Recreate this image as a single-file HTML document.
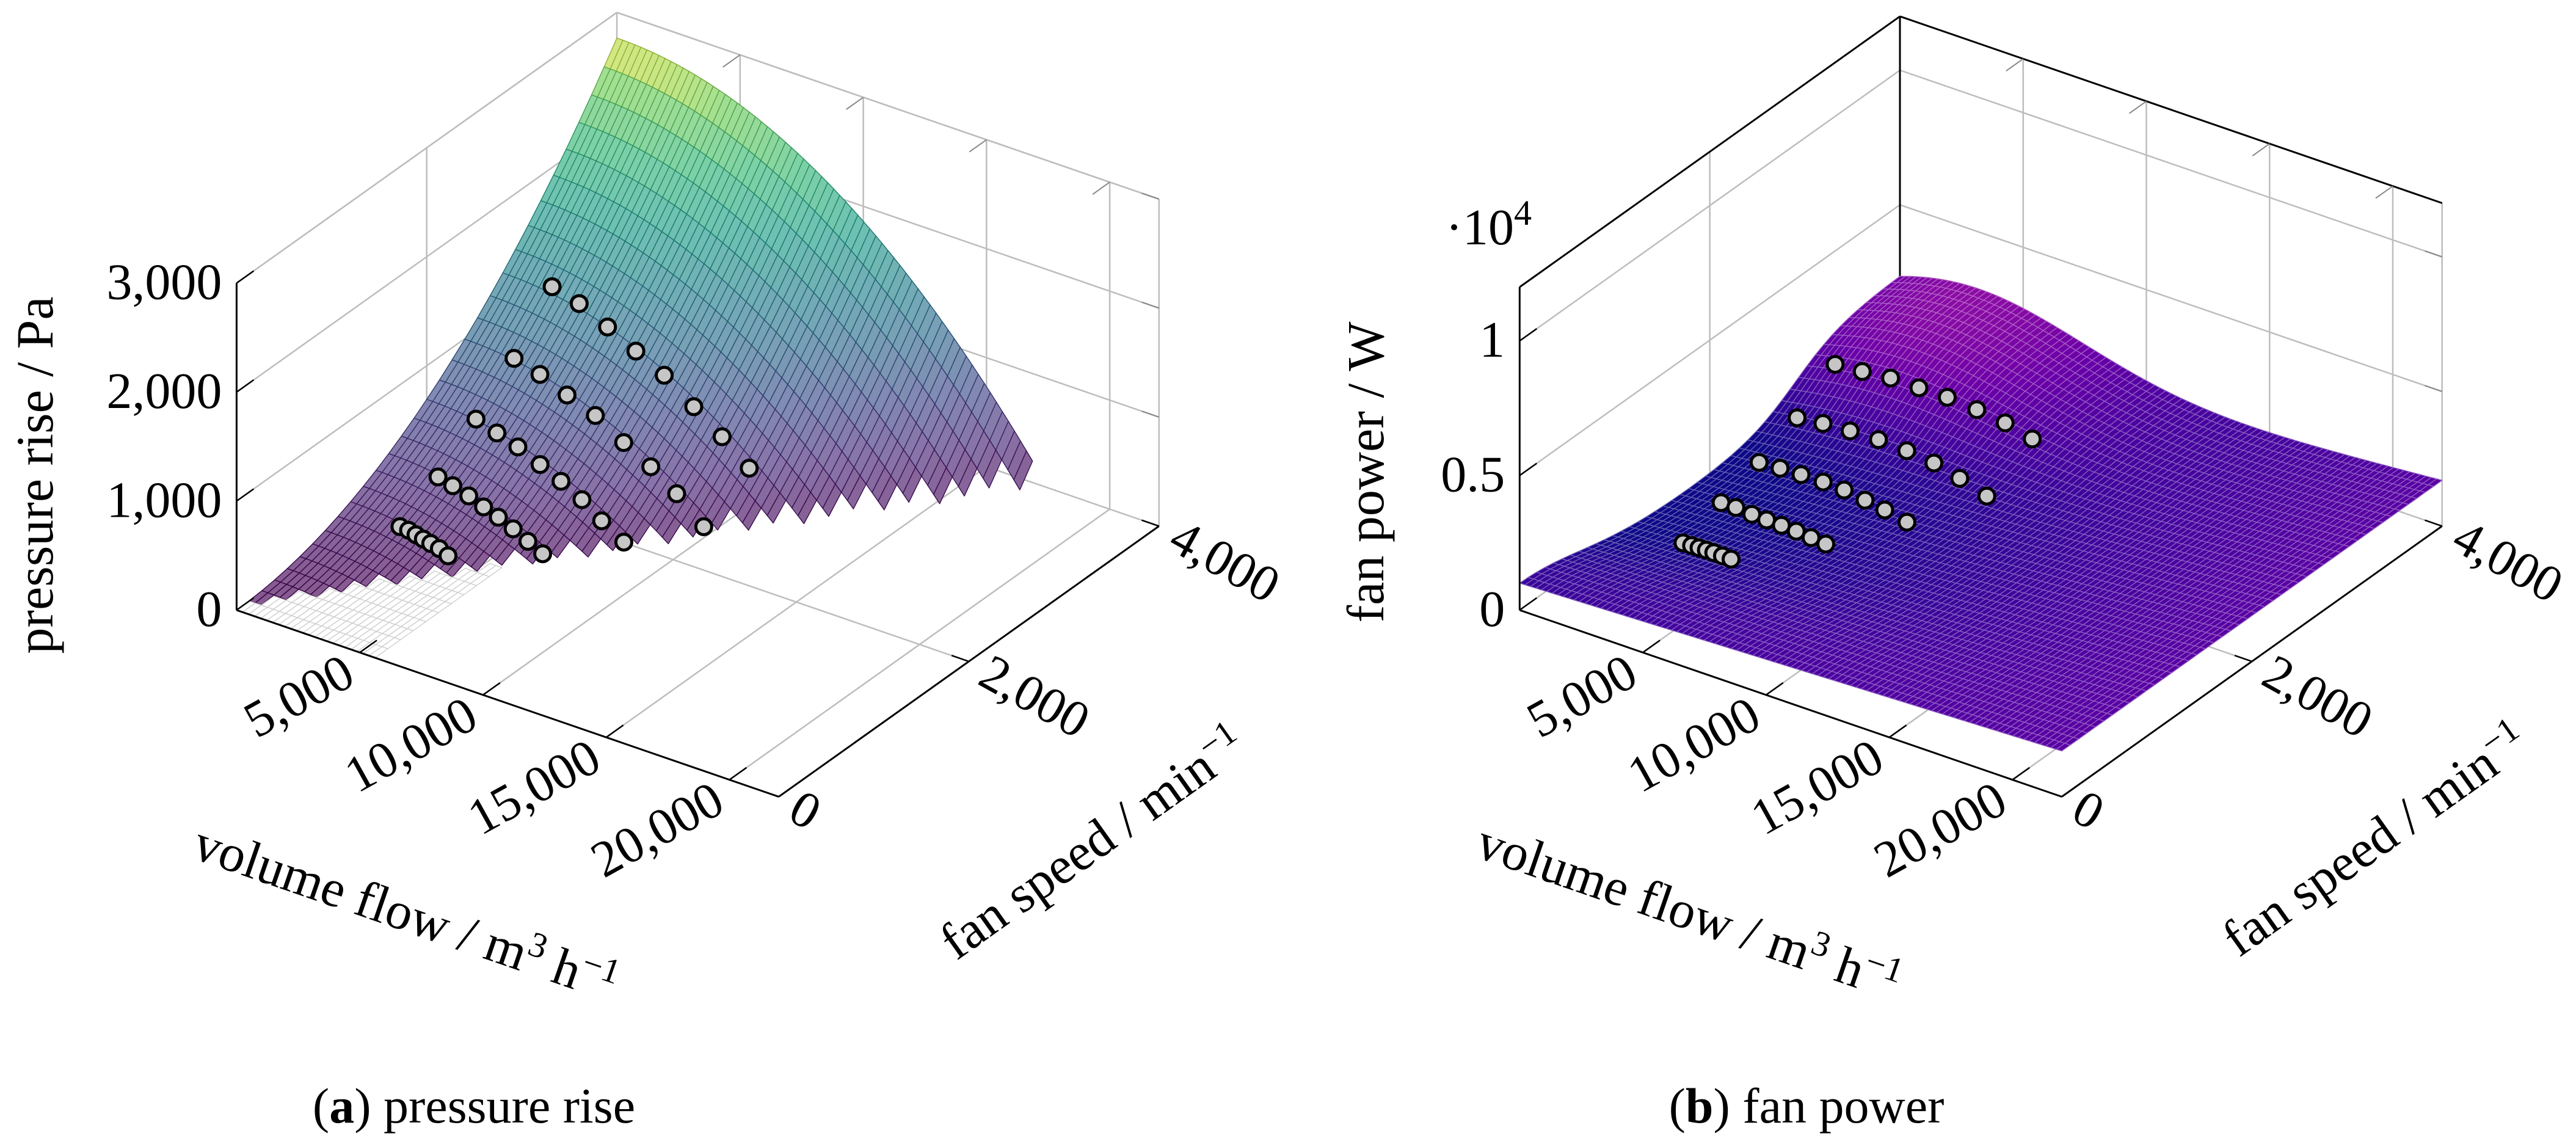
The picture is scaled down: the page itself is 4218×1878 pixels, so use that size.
<!DOCTYPE html>
<html><head><meta charset="utf-8">
<style>
html,body{margin:0;padding:0;background:#fff;}
body{width:4218px;height:1878px;overflow:hidden;position:relative;}
svg{position:absolute;top:0;}
text{font-family:"Liberation Serif",serif;fill:#000;}
</style></head>
<body>
<svg id="chartA" style="left:0" width="2109" height="1878" viewBox="0 0 2109 1878"></svg>
<svg id="chartB" style="left:2109px" width="2109" height="1878" viewBox="0 0 2109 1878"></svg>
<script>
// ---- data ----
const flowTicks = [5000, 10000, 15000, 20000];
const flowTickLabels = ['5,000', '10,000', '15,000', '20,000'];
const speedTicks = [0, 2000, 4000];
const speedTickLabels = ['0', '2,000', '4,000'];
const pressureTicks = [0, 1000, 2000, 3000];
const pressureTickLabels = ['0', '1,000', '2,000', '3,000'];
const powerTicks = [0, 5000, 10000];
const powerTickLabels = ['0', '0.5', '1'];
const rowSpeeds = [1200, 1600, 2000, 2400, 2800];
const rowFlows = [
  [2000, 2350, 2650, 2950, 3250, 3600, 3950],
  [2000, 2600, 3250, 3850, 4450, 5050, 5650, 6250],
  [2000, 2850, 3700, 4600, 5450, 6300, 7100, 8000],
  [2000, 3050, 4150, 5300, 6450, 7550, 8600, 9700],
  [2000, 3100, 4250, 5400, 6550, 7750, 8900, 10000]
];
const rowPressure = [
  [176, 170, 152, 136, 119, 99, 60],
  [384, 350, 307, 253, 205, 145, 77, 10],
  [666, 605, 543, 452, 364, 262, 130, 5],
  [975, 909, 806, 708, 549, 413, 247, 30],
  [1384, 1315, 1190, 1058, 926, 731, 545, 342]
];
const rowPower = [
  [110, 120, 130, 140, 140, 130, 120],
  [600, 610, 560, 540, 530, 500, 450, 400],
  [1090, 1140, 1170, 1180, 1150, 1040, 930, 760],
  [1740, 1860, 1930, 1970, 1920, 1810, 1570, 1260],
  [2720, 2800, 2920, 2920, 2930, 2850, 2720, 2470]
];
// fitted surface model coefficients
const pressureModel = [2765, 4000, 17500];

const NS = 'http://www.w3.org/2000/svg';
const FMAX = 22000, SMAX = 4000;
const KX = 1.345, KY = 1.1977;
function mk(tag, parent){ const e = document.createElementNS(NS, tag); parent.appendChild(e); return e; }
function proj(c, f, s, z){ return [KX*(c.ox + 0.03*f + 0.11575*s), KY*(c.oy + 0.0116*f - 0.0925*s - c.zs*z)]; }
function seg(g, a, b, stroke, w){
  const e = mk('line', g);
  e.setAttribute('x1', a[0].toFixed(1)); e.setAttribute('y1', a[1].toFixed(1));
  e.setAttribute('x2', b[0].toFixed(1)); e.setAttribute('y2', b[1].toFixed(1));
  e.setAttribute('stroke', stroke); e.setAttribute('stroke-width', w);
  return e;
}
function lerpStops(stops, t){
  t = Math.max(0, Math.min(1, t));
  for (let i = 0; i < stops.length - 1; i++){
    const a = stops[i], b = stops[i+1];
    if (t <= b[0]){ const u = (t - a[0])/(b[0]-a[0]); return [0,1,2].map(k => a[1][k] + u*(b[1][k]-a[1][k])); }
  }
  return stops[stops.length-1][1];
}
const viridis = [[0,[68,1,84]],[0.125,[72,40,120]],[0.25,[62,73,137]],[0.375,[49,104,142]],[0.5,[38,130,142]],[0.625,[31,158,137]],[0.75,[53,183,121]],[0.875,[110,206,88]],[1,[253,231,37]]];
const plasma = [[0,[13,8,135]],[0.1,[65,4,157]],[0.2,[106,0,168]],[0.3,[143,13,164]],[0.4,[177,42,144]],[0.5,[204,71,120]]];
function rgb(c, mixW){ const m = mixW || 0; return 'rgb(' + c.map(v => Math.round(v*(1-m) + 255*m)).join(',') + ')'; }

function pressureFn(f, s){ const a = pressureModel; return a[0]*((s/a[1])*(s/a[1]) - (f/a[2])*(f/a[2])); }
function powerFn(f, s){
  const H = 2700/(1 + Math.exp(-(s - 2900)/250));
  return 1700*(f/FMAX) + 1000*(1 - f/FMAX)*Math.exp(-(s/900)*(s/900)) + H*Math.exp(-Math.pow((f - 2500)/7000, 2));
}

function drawFrame(svg, c, zTicks, topBlack){
  const g = mk('g', svg);
  
  
  const gray = '#bdbdbd', gw = 2.5;
  zTicks.forEach(z => { if (z > 0){ seg(g, proj(c,0,0,z), proj(c,0,SMAX,z), gray, gw); seg(g, proj(c,0,SMAX,z), proj(c,FMAX,SMAX,z), gray, gw); } });
  seg(g, proj(c,0,2000,0), proj(c,0,2000,c.zmax), gray, gw);
  seg(g, proj(c,0,2000,0), proj(c,FMAX,2000,0), gray, gw);
  flowTicks.forEach(f => { seg(g, proj(c,f,SMAX,0), proj(c,f,SMAX,c.zmax), gray, gw); seg(g, proj(c,f,0,0), proj(c,f,SMAX,0), gray, gw); });
  seg(g, proj(c,0,0,0), proj(c,0,SMAX,0), gray, gw);
  seg(g, proj(c,0,SMAX,0), proj(c,FMAX,SMAX,0), gray, gw);
  seg(g, proj(c,FMAX,SMAX,0), proj(c,FMAX,SMAX,c.zmax), gray, gw);
  const tc = topBlack ? '#000' : gray, tw = topBlack ? 3 : gw;
  seg(g, proj(c,0,SMAX,0), proj(c,0,SMAX,c.zmax), tc, tw);
  seg(g, proj(c,0,0,c.zmax), proj(c,0,SMAX,c.zmax), tc, tw);
  seg(g, proj(c,0,SMAX,c.zmax), proj(c,FMAX,SMAX,c.zmax), tc, tw);
  flowTicks.forEach(f => seg(g, proj(c,f,SMAX,c.zmax), proj(c,f,SMAX-180,c.zmax), '#888', 2));
  zTicks.forEach(z => seg(g, proj(c,FMAX,SMAX,z), proj(c,FMAX-700,SMAX,z), '#888', 2));
}

function drawAxes(svg, c, zTicks, zLabels){
  const g = mk('g', svg);
  
  
  const zAxis = seg(g, proj(c,0,0,0), proj(c,0,0,c.zmax), '#000', 3);
  
  const fAxis = seg(g, proj(c,0,0,0), proj(c,FMAX,0,0), '#000', 3);
  
  const sAxis = seg(g, proj(c,FMAX,0,0), proj(c,FMAX,SMAX,0), '#000', 3);
  
  flowTicks.forEach((f, i) => {
    seg(g, proj(c,f,0,0), proj(c,f,180,0), '#000', 2.5);
    const p = proj(c,f,0,0);
    const t = mk('text', g);
    
    
    t.setAttribute('text-anchor', 'end');
    t.setAttribute('font-size', '84');
    t.setAttribute('transform', 'translate(' + (p[0]-18) + ',' + (p[1]+24) + ') rotate(-29)');
    t.setAttribute('dy', '0.35em');
    t.textContent = flowTickLabels[i];
  });
  speedTicks.forEach((s, i) => {
    seg(g, proj(c,FMAX,s,0), proj(c,FMAX-700,s,0), '#000', 2.5);
    const p = proj(c,FMAX,s,0);
    const t = mk('text', g);
    
    
    t.setAttribute('text-anchor', 'start');
    t.setAttribute('font-size', '84');
    t.setAttribute('transform', 'translate(' + (p[0]+26) + ',' + (p[1]+10) + ') rotate(29)');
    t.setAttribute('dy', '0.35em');
    t.textContent = speedTickLabels[i];
  });
  zTicks.forEach((z, i) => {
    seg(g, proj(c,0,0,z), proj(c,0,180,z), '#000', 2.5);
    const p = proj(c,0,0,z);
    const t = mk('text', g);
    
    
    t.setAttribute('text-anchor', 'end');
    t.setAttribute('font-size', '84');
    t.setAttribute('x', p[0]-24);
    t.setAttribute('y', p[1]+26);
    t.textContent = zLabels[i];
  });
}

function drawSurface(svg, c, fn, NF, NSg, colorFn, drawClipped){
  const g = mk('g', svg);
  
  
  const cells = [];
  for (let i = 0; i < NF; i++) for (let j = 0; j < NSg; j++){
    const f0 = FMAX*i/NF, f1 = FMAX*(i+1)/NF, s0 = SMAX*j/NSg, s1 = SMAX*(j+1)/NSg;
    const zs = [fn(f0,s0), fn(f1,s0), fn(f1,s1), fn(f0,s1)];
    const depth = 0.0116*(f0+f1)/2 - 0.0925*(s0+s1)/2;
    cells.push({f0,f1,s0,s1,zs,depth});
  }
  cells.sort((a,b) => a.depth - b.depth);
  cells.forEach(cl => {
    const mn = Math.min(...cl.zs);
    let pts, fill, stroke;
    if (mn < 0){
      if (!drawClipped || cl.f0 > 5500) return;
      pts = [[cl.f0,cl.s0,0],[cl.f1,cl.s0,0],[cl.f1,cl.s1,0],[cl.f0,cl.s1,0]];
      fill = '#ffffff'; stroke = '#cfcfcf';
    } else {
      const zc = cl.zs.reduce((a,b)=>a+b,0)/4;
      const cc = colorFn(zc);
      fill = cc[0]; stroke = cc[1];
      pts = [[cl.f0,cl.s0,cl.zs[0]],[cl.f1,cl.s0,cl.zs[1]],[cl.f1,cl.s1,cl.zs[2]],[cl.f0,cl.s1,cl.zs[3]]];
    }
    const poly = mk('polygon', g);
    poly.setAttribute('points', pts.map(p => proj(c,p[0],p[1],p[2]).map(v=>v.toFixed(1)).join(',')).join(' '));
    poly.setAttribute('fill', fill);
    poly.setAttribute('stroke', stroke);
    poly.setAttribute('stroke-width', '1.4');
    poly.setAttribute('stroke-linejoin', 'round');
  });
}

function drawScatter(svg, c, zRows){
  const g = mk('g', svg);
  
  
  rowSpeeds.forEach((s, r) => {
    rowFlows[r].forEach((f, k) => {
      const p = proj(c, f, s, zRows[r][k]);
      const dot = mk('circle', g);
      
      
      dot.setAttribute('cx', p[0].toFixed(1));
      dot.setAttribute('cy', p[1].toFixed(1));
      dot.setAttribute('r', '13');
      dot.setAttribute('fill', '#c6c6c6');
      dot.setAttribute('stroke', '#000');
      dot.setAttribute('stroke-width', '5');
    });
  });
}

function addText(svg, name, html, attrs){
  const t = mk('text', svg);
  
  
  for (const k in attrs) t.setAttribute(k, attrs[k]);
  t.innerHTML = html;
  return t;
}
const flowTitle = 'volume flow / m<tspan font-size="58" dy="-30">3</tspan><tspan dy="30"> h</tspan><tspan font-size="58" dy="-30">−1</tspan>';
const speedTitle = 'fan speed / min<tspan font-size="58" dy="-30">−1</tspan>';

// ---- Chart A: pressure rise ----
const svgA = document.getElementById('chartA');
const cA = {ox:288, oy:834, zs:0.149, zmax:3000};
drawFrame(svgA, cA, pressureTicks, false);
drawSurface(svgA, cA, pressureFn, 90, 30, z => {
  const col = lerpStops(viridis, z/2850);
  return [rgb(col, 0.35), rgb(col.map(v=>v*0.8))];
}, true);
drawAxes(svgA, cA, pressureTicks, pressureTickLabels);
drawScatter(svgA, cA, rowPressure);
addText(svgA, 'z-axis-title', 'pressure rise / Pa', {'font-size':'86','text-anchor':'middle','transform':'translate(86,778) rotate(-90)'});
addText(svgA, 'flow-axis-title', flowTitle, {'font-size':'86','text-anchor':'middle','transform':'translate(655,1522) rotate(19)'});
addText(svgA, 'speed-axis-title', speedTitle, {'font-size':'86','text-anchor':'middle','transform':'translate(1806,1403) rotate(-35.4)'});
addText(svgA, 'caption-a', '(<tspan font-weight="bold">a</tspan>) pressure rise', {'font-size':'82','text-anchor':'middle','x':'776','y':'1838'});

// ---- Chart B: fan power ----
const svgB = document.getElementById('chartB');
const cB = {ox:282, oy:834, zs:0.0368, zmax:12000};
drawFrame(svgB, cB, powerTicks, true);
drawSurface(svgB, cB, powerFn, 100, 45, z => {
  const t = 0.07 + (z - 900)/(2700 - 900)*0.2;
  const col = lerpStops(plasma, t);
  return [rgb(col), rgb(col, 0.35)];
}, false);
drawAxes(svgB, cB, powerTicks, powerTickLabels);
drawScatter(svgB, cB, rowPower);
addText(svgB, 'z-axis-title', 'fan power / W', {'font-size':'86','text-anchor':'middle','transform':'translate(156,773) rotate(-90)'});
addText(svgB, 'z-axis-multiplier', '·10<tspan font-size="58" dy="-32">4</tspan>', {'font-size':'84','x':'258','y':'400'});
addText(svgB, 'flow-axis-title', flowTitle, {'font-size':'86','text-anchor':'middle','transform':'translate(647,1520) rotate(19)'});
addText(svgB, 'speed-axis-title', speedTitle, {'font-size':'86','text-anchor':'middle','transform':'translate(1797,1398) rotate(-35.4)'});
addText(svgB, 'caption-b', '(<tspan font-weight="bold">b</tspan>) fan power', {'font-size':'82','text-anchor':'middle','x':'849','y':'1838'});
</script>
</body></html>
